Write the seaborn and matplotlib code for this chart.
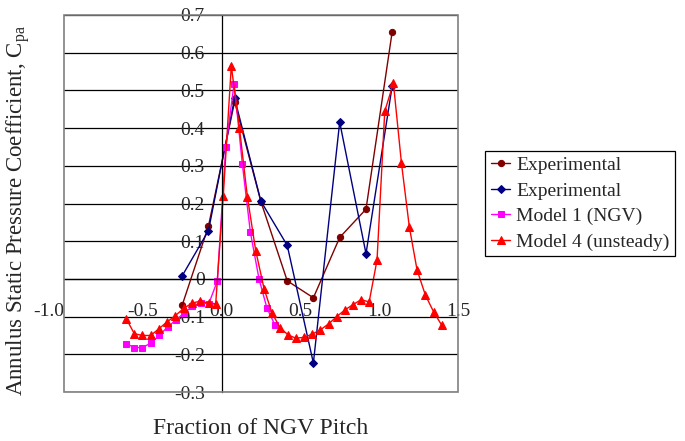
import numpy as np
import pandas as pd
import seaborn as sns
import matplotlib.pyplot as plt
from matplotlib.patches import Rectangle

# fraction of NGV pitch for the two experimental traverses
exp_x = [-0.25, -0.083, 0.083, 0.25, 0.417, 0.583, 0.75, 0.917, 1.083]
exp1_y = [-0.07, 0.14, 0.47, 0.205, -0.005, -0.05, 0.11, 0.185, 0.655]
exp2_y = [0.008, 0.128, 0.479, 0.206, 0.089, -0.223, 0.416, 0.067, 0.511]

model1_x = [-0.604, -0.553, -0.502, -0.448, -0.395, -0.342, -0.289, -0.237,
            -0.185, -0.133, -0.081, -0.027, 0.027, 0.080, 0.132, 0.183,
            0.238, 0.288, 0.340]
model1_y = [-0.172, -0.182, -0.182, -0.170, -0.150, -0.127, -0.109, -0.090,
            -0.073, -0.063, -0.066, -0.006, 0.350, 0.518, 0.305, 0.124,
            0.0, -0.077, -0.123]

model4_x = [-0.604, -0.554, -0.503, -0.450, -0.397, -0.346, -0.295, -0.240,
            -0.187, -0.135, -0.081, -0.037, 0.011, 0.062, 0.114, 0.164,
            0.217, 0.270, 0.320, 0.371, 0.424, 0.472, 0.524, 0.577, 0.628,
            0.680, 0.731, 0.784, 0.835, 0.886, 0.937, 0.987, 1.036, 1.091,
            1.142, 1.192, 1.241, 1.294, 1.347, 1.398]
model4_y = [-0.106, -0.145, -0.150, -0.150, -0.132, -0.114, -0.098, -0.078,
            -0.064, -0.059, -0.064, -0.066, 0.220, 0.565, 0.399, 0.218,
            0.075, -0.026, -0.090, -0.129, -0.149, -0.157, -0.155, -0.146,
            -0.135, -0.119, -0.100, -0.082, -0.068, -0.055, -0.061, 0.050,
            0.445, 0.519, 0.307, 0.138, 0.024, -0.043, -0.088, -0.123]

xticks = [-1.0, -0.5, 0.0, 0.5, 1.0, 1.5]
xtick_labels = ["-1.0", "-0.5", "0.0", "0.5", "1.0", "1.5"]
yticks = [-0.3, -0.2, -0.1, 0.0, 0.1, 0.2, 0.3, 0.4, 0.5, 0.6, 0.7]
ytick_labels = ["-0.3", "-0.2", "-0.1", "0", "0.1", "0.2", "0.3", "0.4", "0.5", "0.6", "0.7"]

sns.set_style("white")
plt.rcParams['font.family'] = ['Liberation Serif', 'DejaVu Serif']
plt.rcParams['mathtext.fontset'] = 'custom'
plt.rcParams['mathtext.rm'] = 'Liberation Serif'
plt.rcParams['mathtext.default'] = 'regular'

fig = plt.figure(figsize=(6.85, 4.41), dpi=100)
ax = fig.add_axes([0.0934, 0.111, 0.575, 0.855])

series = [
    (exp_x, exp1_y, "Experimental", "#800000", "o", 4.5),
    (exp_x, exp2_y, "Experimental", "#000080", "D", 3.8),
    (model1_x, model1_y, "Model 1 (NGV)", "#FF00FF", "s", 4.5),
    (model4_x, model4_y, "Model 4 (unsteady)", "#FF0000", "^", 5.5),
]
for xs, ys, name, col, mk, ms in series:
    df = pd.DataFrame({"x": xs, "y": ys})
    sns.lineplot(data=df, x="x", y="y", sort=False, estimator=None, ax=ax,
                 color=col, lw=1.0, marker=mk, markersize=ms,
                 markeredgecolor=col, markerfacecolor=col, label=name)

ax.set_xlim(-1.0, 1.5)
ax.set_ylim(-0.3, 0.7)

ax.yaxis.grid(True, color="black", lw=0.9)
ax.set_axisbelow(True)

for s in ["top", "right"]:
    ax.spines[s].set_visible(False)
ax.spines["left"].set_position(("data", 0))
ax.spines["bottom"].set_position(("data", 0))
ax.spines["left"].set_color("black")
ax.spines["bottom"].set_color("black")
ax.spines["left"].set_linewidth(0.9)
ax.spines["bottom"].set_linewidth(0.9)
ax.add_patch(Rectangle((0, 0), 1, 1, transform=ax.transAxes, fill=False,
                       edgecolor="#808080", lw=1.2, clip_on=False, zorder=5))

ax.set_xticks(xticks)
ax.set_xticklabels(xtick_labels)
ax.set_yticks(yticks)
ax.set_yticklabels(ytick_labels)
ax.tick_params(axis="x", direction="out", length=5, width=0.9, pad=12, labelsize=14)
ax.tick_params(axis="y", direction="out", length=6, width=0.9, pad=6, labelsize=14)
ax.get_xticklabels()[0].set_horizontalalignment("right")

ax.set_xlabel("Fraction of NGV Pitch", fontsize=17)
ax.xaxis.set_label_coords(0.5, -0.068)
ax.set_ylabel("Annulus Static Pressure Coefficient, C$_{pa}$", fontsize=16.5)
ax.yaxis.set_label_coords(-0.08, 0.48)

leg = ax.legend(loc="upper left", bbox_to_anchor=(0.708, 0.658),
                bbox_transform=fig.transFigure, frameon=True, fancybox=False,
                edgecolor="black", framealpha=1, fontsize=14, handlelength=1.0,
                handletextpad=0.3, borderpad=0.3, labelspacing=0.4,
                borderaxespad=0)
leg.get_frame().set_linewidth(0.9)

fig.savefig("out.png", dpi=100)
